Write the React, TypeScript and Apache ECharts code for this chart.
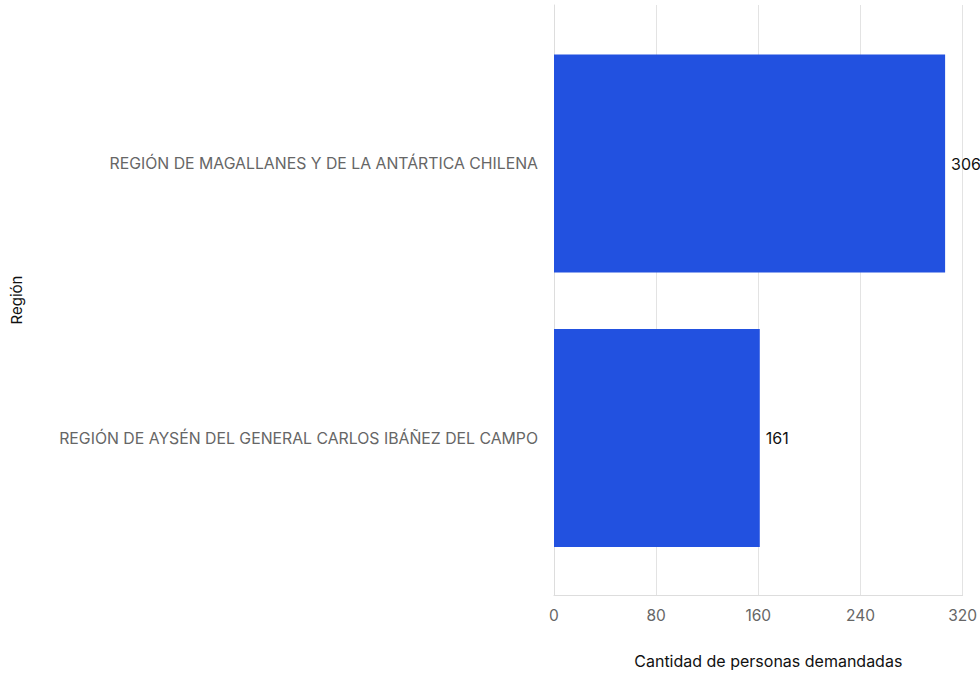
import React, { useEffect, useRef } from "react";
import * as echarts from "echarts";

const categories = [
  "REGIÓN DE AYSÉN DEL GENERAL CARLOS IBÁÑEZ DEL CAMPO",
  "REGIÓN DE MAGALLANES Y DE LA ANTÁRTICA CHILENA",
];
const values = [161, 306];
const xTicks = { min: 0, max: 320, interval: 80 };

const FONT = "Inter, 'Open Sans', sans-serif";

export default function App() {
  const ref = useRef<HTMLDivElement>(null);
  useEffect(() => {
    if (!ref.current) return;
    const chart = echarts.init(ref.current, null, { renderer: "svg" });
    chart.setOption({
      animation: false,
      textStyle: { fontFamily: FONT },
      grid: [
        { left: 554, right: 17, top: 5, bottom: 77, containLabel: false },
        { left: 554, right: 17, top: 26.25, bottom: 98.75, containLabel: false },
      ],
      xAxis: [
        {
          gridIndex: 0,
          type: "value",
          min: xTicks.min,
          max: xTicks.max,
          interval: xTicks.interval,
          name: "Cantidad de personas demandadas",
          nameLocation: "middle",
          nameGap: 58,
          nameTextStyle: { color: "#111", fontSize: 16, padding: [0, 0, 0, 20] },
          axisLine: { show: true, lineStyle: { color: "#dddddd" } },
          axisTick: { show: false },
          axisLabel: { color: "#666", fontSize: 15.5, margin: 12 },
          splitLine: { show: true, lineStyle: { color: "#e3e3e3" } },
        },
        {
          gridIndex: 1,
          type: "value",
          min: xTicks.min,
          max: xTicks.max,
          interval: xTicks.interval,
          show: false,
        },
      ],
      yAxis: [
        {
          gridIndex: 0,
          type: "value",
          name: "Región",
          nameLocation: "middle",
          nameGap: 530,
          nameRotate: 90,
          nameTextStyle: { color: "#111", fontSize: 15 },
          axisLine: { show: true, lineStyle: { color: "#dddddd" } },
          axisTick: { show: false },
          axisLabel: { show: false },
          splitLine: { show: false },
        },
        {
          gridIndex: 1,
          type: "category",
          data: categories,
          axisLine: { show: false },
          axisTick: { show: false },
          axisLabel: { color: "#666", fontSize: 15.8, margin: 16 },
          splitLine: { show: false },
        },
      ],
      series: [
        {
          type: "bar",
          xAxisIndex: 1,
          yAxisIndex: 1,
          data: values,
          barCategoryGap: "20.6%",
          itemStyle: { color: "#2251E0" },
          label: {
            show: true,
            position: "right",
            distance: 6,
            color: "#111",
            fontSize: 16,
          },
        },
      ],
    });
    return () => chart.dispose();
  }, []);
  return (
    <div
      ref={ref}
      style={{ position: "absolute", left: 0, top: 0, width: 980, height: 674 }}
    />
  );
}
